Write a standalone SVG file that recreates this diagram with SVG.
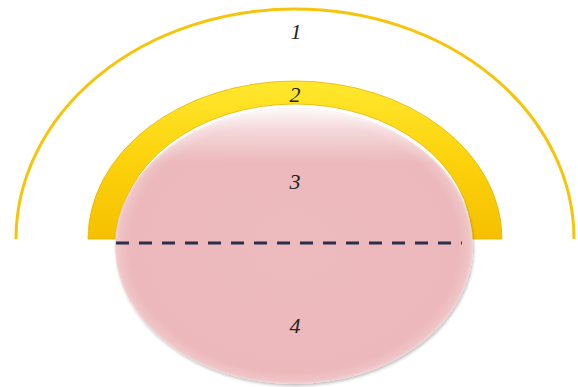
<svg xmlns="http://www.w3.org/2000/svg" width="578" height="387" viewBox="0 0 578 387">
<defs>
<linearGradient id="band" x1="0" y1="0" x2="0" y2="1">
<stop offset="0" stop-color="#ffe82e"/>
<stop offset="0.5" stop-color="#fcd20c"/>
<stop offset="1" stop-color="#f5c000"/>
</linearGradient>
<radialGradient id="pink" cx="0.5" cy="0.5" r="0.5">
<stop offset="0" stop-color="#edbabd"/>
<stop offset="0.92" stop-color="#ecb8bb"/>
<stop offset="0.98" stop-color="#efc4c6"/>
<stop offset="1" stop-color="#f3d3d4"/>
</radialGradient>
<linearGradient id="topglow" x1="0" y1="0" x2="0" y2="1">
<stop offset="0" stop-color="#ffffff" stop-opacity="0.9"/>
<stop offset="0.08" stop-color="#ffffff" stop-opacity="0.45"/>
<stop offset="0.2" stop-color="#ffffff" stop-opacity="0"/>
</linearGradient>
<filter id="sh" x="-10%" y="-10%" width="120%" height="130%">
<feGaussianBlur in="SourceAlpha" stdDeviation="1.5"/>
<feOffset dx="1" dy="2"/>
<feComponentTransfer><feFuncA type="linear" slope="0.25"/></feComponentTransfer>
<feMerge><feMergeNode/><feMergeNode in="SourceGraphic"/></feMerge>
</filter>
<style>
.lbl{font-family:"Liberation Serif",serif;font-style:italic;font-size:22px;fill:#222;text-anchor:middle}
</style>
</defs>
<g id="outer-arc">
<path d="M16,239 A279,230 0 0 1 574,239" fill="none" stroke="#f7c40a" stroke-width="3"/>
</g>
<g id="band-2">
<path d="M88,239 A207,158 0 0 1 502,239 L472,239 A177,135 0 0 0 118,239 Z" fill="url(#band)" stroke="#e9b400" stroke-width="0.8"/>
</g>
<g id="body">
<ellipse cx="294" cy="246" rx="179" ry="138" fill="url(#pink)" filter="url(#sh)"/>
<ellipse cx="294" cy="246" rx="179" ry="138" fill="url(#topglow)"/>
</g>
<g id="connectors">
<line x1="116" y1="243" x2="462" y2="243" stroke="#2b2f4c" stroke-width="3" stroke-dasharray="13,10"/>
</g>
<g id="labels">
<text class="lbl" x="296" y="39">1</text>
<text class="lbl" x="295" y="102">2</text>
<text class="lbl" x="295" y="189">3</text>
<text class="lbl" x="295" y="333">4</text>
</g>
</svg>
